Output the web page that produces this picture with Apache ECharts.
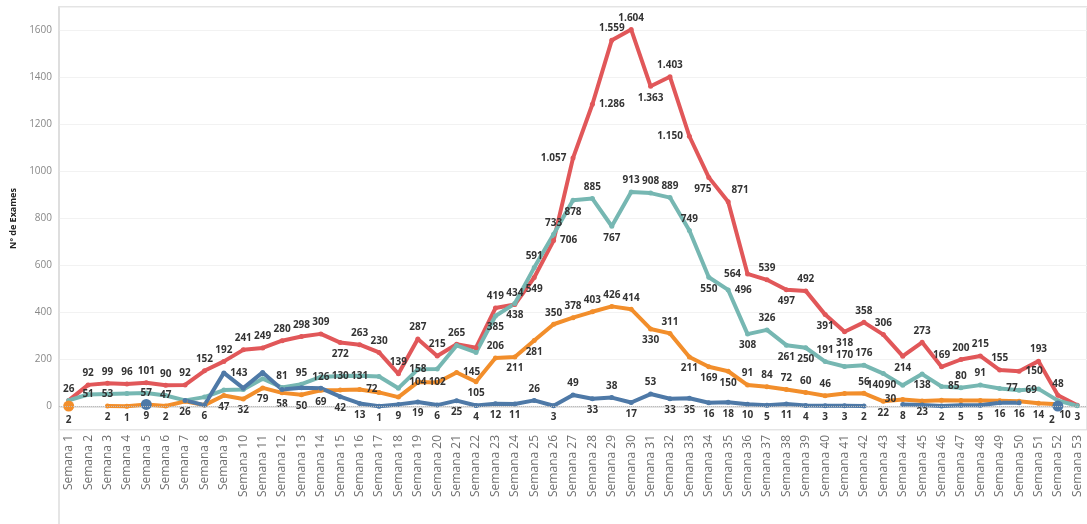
<!DOCTYPE html>
<html>
<head>
<meta charset="utf-8">
<script src="https://cdn.jsdelivr.net/npm/echarts@6/dist/echarts.min.js"></script>
<style>
html,body{margin:0;padding:0;background:#fff;}
#c{width:1087px;height:524px;}
</style>
</head>
<body>
<div id="c"></div>
<script>
var categories = ["Semana 1","Semana 2","Semana 3","Semana 4","Semana 5","Semana 6","Semana 7","Semana 8","Semana 9","Semana 10",
"Semana 11","Semana 12","Semana 13","Semana 14","Semana 15","Semana 16","Semana 17","Semana 18","Semana 19","Semana 20",
"Semana 21","Semana 22","Semana 23","Semana 24","Semana 25","Semana 26","Semana 27","Semana 28","Semana 29","Semana 30",
"Semana 31","Semana 32","Semana 33","Semana 34","Semana 35","Semana 36","Semana 37","Semana 38","Semana 39","Semana 40",
"Semana 41","Semana 42","Semana 43","Semana 44","Semana 45","Semana 46","Semana 47","Semana 48","Semana 49","Semana 50",
"Semana 51","Semana 52","Semana 53"];

var redValues = [26,92,99,96,101,90,92,152,192,241,249,280,298,309,272,263,230,139,287,215,265,250,419,434,549,706,1057,1286,1559,1604,1363,1403,1150,975,871,564,539,497,492,391,318,358,306,214,273,169,200,215,155,150,193,48,5];
var tealValues = [26,51,53,55,57,47,26,40,70,72,118,81,95,126,130,131,128,78,158,160,260,230,385,438,591,733,878,885,767,913,908,889,749,550,496,308,326,261,250,191,170,176,140,90,138,85,80,91,77,69,75,25,3];
var orangeValues = [2,null,2,1,9,2,22,6,47,32,79,58,50,69,70,72,60,40,104,102,145,105,206,211,281,350,378,403,426,414,330,311,211,169,150,91,84,72,60,46,55,56,22,30,23,27,26,26,24,22,14,10,null];
var blueValues = [null,null,null,null,9,null,26,6,143,78,145,72,80,78,42,13,1,9,19,6,25,4,12,11,26,3,49,33,38,17,53,33,35,16,18,10,5,11,4,3,3,2,null,8,6,2,5,5,16,16,null,2,null];

var yTicks = [0,200,400,600,800,1000,1200,1400,1600];

// label placement (style only): default position + per-index overrides [position, dx, dy]
var redLabelPos = {def: 'top', o: {14:'bottom',21:'hide',24:'bottom',25:'right',26:'left',27:'right',30:'bottom',32:'left',33:['bottom',-6,0],34:['top',12,0],35:'left',37:'bottom',39:'bottom',40:'bottom',43:'bottom',49:'right',52:'hide'}};
var tealLabelPos = {def: 'top', o: {0:'hide',1:'inside',2:'inside',3:'hide',4:'inside',5:'inside',6:'hide',7:'hide',8:'hide',9:'hide',10:'hide',13:'inside',14:'inside',15:'inside',16:'hide',17:'hide',18:'inside',19:'hide',20:'hide',21:'hide',22:'bottom',23:'bottom',26:'bottom',28:'bottom',33:'bottom',34:'right',35:'bottom',37:'bottom',38:'bottom',42:['bottom',-8,0],43:'left',44:'bottom',45:'right',48:'right',49:'right',50:'hide',51:'hide',52:'bottom'}};
var orangeLabelPos = {def: 'top', o: {0:'bottom',2:'bottom',3:'bottom',4:'bottom',5:'bottom',6:'hide',7:'bottom',8:'bottom',9:'bottom',10:'bottom',11:'bottom',12:'bottom',13:'bottom',14:'hide',15:'right',16:'hide',17:'hide',18:'inside',19:'inside',20:'right',21:'bottom',23:'bottom',24:'bottom',30:'bottom',32:'bottom',33:'bottom',34:'bottom',40:'hide',42:'bottom',43:'left',44:'bottom',45:'hide',46:'hide',47:'hide',48:'hide',49:'hide',50:'bottom',51:['bottom',7,0]}};
var blueLabelPos = {def: 'bottom', o: {4:'hide',7:'hide',8:'right',9:'hide',10:'hide',11:'hide',12:'hide',13:'hide',24:'top',26:'top',28:'top',30:'top',44:'hide',51:['bottom',-6,0]}};

function fmt(v){
  var s = String(Math.round(v));
  return s.replace(/\B(?=(\d{3})+(?!\d))/g, '.');
}
function buildData(arr, cfg){
  return arr.map(function(v, i){
    var spec = cfg.o[i] !== undefined ? cfg.o[i] : cfg.def;
    var pos = Array.isArray(spec) ? spec[0] : spec;
    var off = Array.isArray(spec) ? [spec[1], spec[2]] : [0, 0];
    var prev = i > 0 ? arr[i-1] : null, next = i < arr.length-1 ? arr[i+1] : null;
    var iso = (prev == null && next == null);
    if (v == null) return {value: null};
    return {
      value: v,
      symbolSize: iso ? 11 : 5,
      label: pos === 'hide' ? {show: false} : {show: true, position: pos, offset: off}
    };
  });
}
function mk(name, arr, color, cfg){
  return {
    name: name, type: 'line', data: buildData(arr, cfg), connectNulls: false,
    symbol: 'circle', showSymbol: true,
    lineStyle: {width: 4, color: color}, itemStyle: {color: color},
    label: {show: true, distance: 4, color: '#333', fontSize: 10, fontWeight: 'bold',
            fontFamily: 'Open Sans, sans-serif', formatter: function(p){return fmt(p.value);}},
    emphasis: {disabled: true}, animation: false
  };
}

var chart = echarts.init(document.getElementById('c'), null, {renderer: 'canvas'});
var series = [
  mk('Total', redValues, '#e15759', redLabelPos),
  mk('Teal', tealValues, '#76b7b2', tealLabelPos),
  mk('Orange', orangeValues, '#f28e2b', orangeLabelPos),
  mk('Blue', blueValues, '#4e79a7', blueLabelPos)
];
series[0].markLine = {silent: true, symbol: 'none', label: {show: false},
  lineStyle: {type: 'dotted', color: '#bbb', width: 1}, data: [{yAxis: 0}]};

chart.setOption({
  animation: false,
  grid: {left: 59, right: 0, top: 7, bottom: 94, show: true, borderColor: '#dcdcdc', borderWidth: 1.5, backgroundColor: 'transparent'},
  xAxis: {
    type: 'category', data: categories, boundaryGap: true,
    axisLine: {show: true, lineStyle: {color: '#dcdcdc', width: 1.5}},
    axisTick: {show: false},
    axisLabel: {interval: 0, rotate: 90, color: '#707070', fontSize: 12, fontFamily: 'Open Sans, sans-serif', margin: 5}
  },
  yAxis: {
    type: 'value', min: -100, max: 1700, splitNumber: 9,
    name: 'Nº de Exames', nameLocation: 'middle', nameRotate: 90, nameGap: 41,
    nameTextStyle: {fontSize: 9, fontWeight: 'bold', color: '#222', fontFamily: 'Open Sans, sans-serif'},
    axisLine: {show: true, lineStyle: {color: '#dcdcdc', width: 1.5}},
    axisTick: {show: false},
    axisLabel: {color: '#888', fontSize: 10, fontFamily: 'Open Sans, sans-serif', margin: 7,
      formatter: function(v){ return yTicks.indexOf(v) >= 0 ? String(v) : ''; }},
    splitLine: {lineStyle: {color: '#f2f2f2', width: 1}}
  },
  graphic: [{type: 'line', shape: {x1: 59, y1: 430, x2: 59, y2: 524}, style: {stroke: '#dcdcdc', lineWidth: 1.5}, silent: true}],
  series: series
});
</script>
</body>
</html>
